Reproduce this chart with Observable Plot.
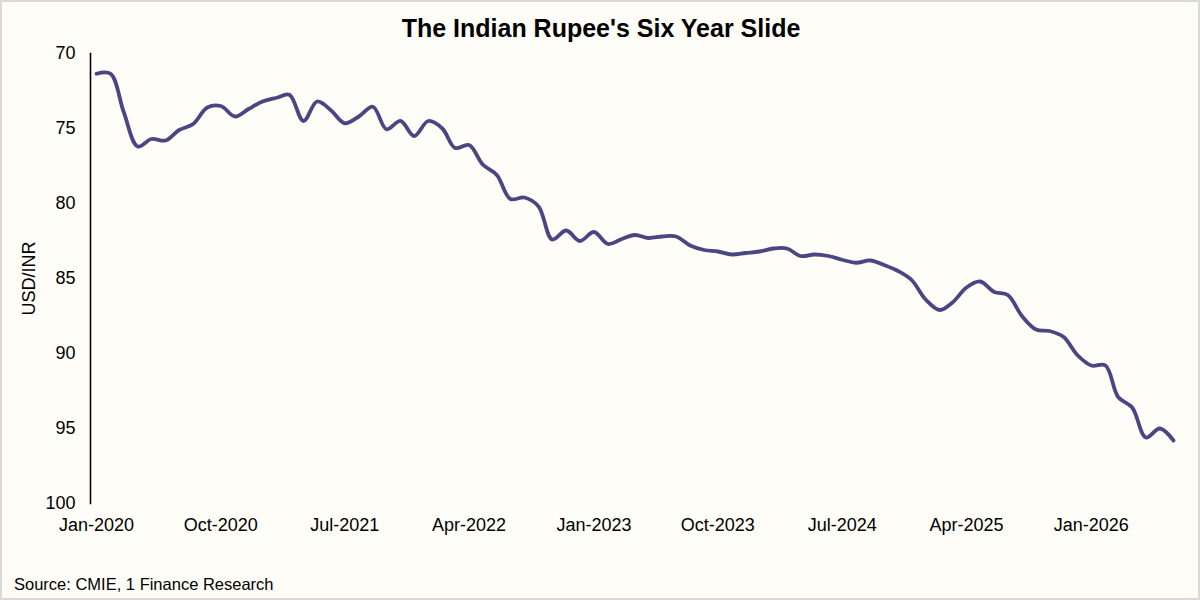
<!DOCTYPE html>
<html>
<head>
<meta charset="utf-8">
<script src="https://cdn.jsdelivr.net/npm/d3@7"></script>
<script src="https://cdn.jsdelivr.net/npm/@observablehq/plot@0.6"></script>
<style>
  html, body { margin: 0; padding: 0; background: #fefdf8; }
  #wrap { position: relative; width: 1200px; height: 600px; background: #fefdf8; overflow: hidden;
          font-family: "Liberation Sans", Arial, sans-serif; color: #000; }
  #border { position: absolute; left: 0; top: 0; width: 1200px; height: 600px; box-sizing: border-box;
            border: 2px solid #d9d9d9; pointer-events: none; }
  #title { position: absolute; left: 0; top: 16px; width: 1202px; text-align: center;
           font-size: 25px; line-height: 25px; font-weight: bold; }
  #chart { position: absolute; left: 0; top: 43px; }
  #source { position: absolute; left: 14px; top: 576px; font-size: 16.5px; line-height: 16.5px; }
</style>
</head>
<body>
<div id="wrap">
  <div id="title">The Indian Rupee's Six Year Slide</div>
  <div id="chart"></div>
  <div id="source">Source: CMIE, 1 Finance Research</div>
  <div id="border"></div>
</div>
<script>
// Monthly USD/INR, Jan-2020 .. Jul-2026
const startMonth = "2020-01";
const usdInr = [
  71.35, 71.35, 73.9, 76.2, 75.7, 75.8, 75.1, 74.7, 73.6, 73.5, 74.2, 73.7,
  73.2, 72.95, 72.75, 74.5, 73.2, 73.8, 74.65, 74.2, 73.55, 75.05, 74.5, 75.5,
  74.5, 75.0, 76.3, 76.1, 77.4, 78.1, 79.7, 79.6, 80.2, 82.4, 81.8, 82.5,
  81.9, 82.7, 82.4, 82.1, 82.3, 82.2, 82.2, 82.8, 83.1, 83.2, 83.4, 83.3,
  83.2, 83.0, 83.0, 83.5, 83.4, 83.5, 83.75, 83.95, 83.8, 84.1, 84.5, 85.1,
  86.4, 87.1, 86.6, 85.6, 85.2, 85.9, 86.1, 87.5, 88.4, 88.5, 88.9, 90.1,
  90.8, 90.8, 92.9, 93.6, 95.6, 95.0, 95.8
];
const xTickLabels = ["Jan-2020", "Oct-2020", "Jul-2021", "Apr-2022", "Jan-2023",
                     "Oct-2023", "Jul-2024", "Apr-2025", "Jan-2026"];
const yTicks = [70, 75, 80, 85, 90, 95, 100];

const start = d3.utcParse("%Y-%m")(startMonth);
const months = usdInr.map((_, i) => d3.utcMonth.offset(start, i));
const data = usdInr.map((v, i) => ({date: months[i], value: v}));
const parseTick = d3.utcParse("%b-%Y");
const xTicks = xTickLabels.map(parseTick);

const chart = Plot.plot({
  width: 1200,
  height: 520,
  marginLeft: 90,
  marginRight: 20,
  marginTop: 10,
  marginBottom: 60,
  style: {background: "transparent", fontFamily: "'Liberation Sans', Arial, sans-serif", fontSize: "18px", color: "#000"},
  x: {type: "utc", domain: [months[0], months[months.length - 1]], range: [96, 1173]},
  y: {domain: [70, 100], reverse: true},
  marks: [
    Plot.frame({anchor: "left", stroke: "#000", strokeWidth: 1.6}),
    Plot.axisY({ticks: yTicks, tickSize: 0, tickPadding: 15, fontSize: 18,
                label: "USD/INR", labelAnchor: "center", labelArrow: "none", labelOffset: 68}),
    Plot.axisX({ticks: xTicks, tickSize: 0, tickPadding: 15, fontSize: 18,
                tickFormat: d3.utcFormat("%b-%Y"), label: null}),
    Plot.line(data, {x: "date", y: "value", stroke: "#4b4683", strokeWidth: 3.8,
                     curve: "catmull-rom", strokeLinecap: "round", strokeLinejoin: "round"})
  ]
});
document.getElementById("chart").appendChild(chart);
</script>
</body>
</html>
